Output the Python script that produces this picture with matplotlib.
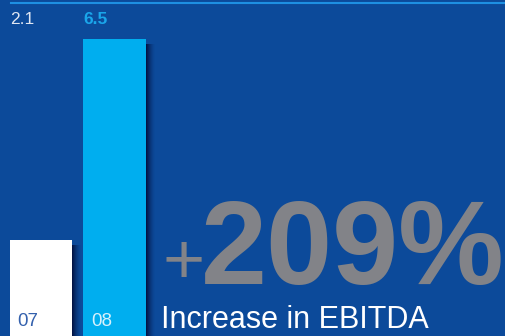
import matplotlib
matplotlib.use("Agg")
import matplotlib.pyplot as plt
from matplotlib.lines import Line2D
import numpy as np

plt.rcParams['font.family'] = ['Liberation Sans', 'DejaVu Sans']

# EBITDA by year (in millions)
years = ["07", "08"]
ebitda = [2.1, 6.5]
value_labels = ["2.1", "6.5"]
headline = "209%"
caption = "Increase in EBITDA"

BG = "#0c4a9a"
GREY = "#828388"
bar_colors = ["#ffffff", "#00aeef"]
value_colors = ["#dfe6f2", "#1aa6ea"]
year_colors = ["#3461ad", "#d7f1fc"]

W, H = 505, 336
fig = plt.figure(figsize=(W / 100, H / 100), dpi=100)
fig.patch.set_facecolor(BG)
ax = fig.add_axes([0, 0, 1, 1])
ax.set_facecolor(BG)

# one category step = 73.5 px, one unit of value = 45.7 px
px_x = 1 / 73.5
px_y = 1 / 45.7
ax.set_xlim(-41 * px_x, (W - 41) * px_x)
ax.set_ylim(0, H * px_y)
ax.axis('off')

x = np.arange(len(years))
width = 62.5 * px_x
vals = np.array(ebitda)

# soft drop shadow on the right side of each bar
n = 9
for k in range(n):
    ax.bar(x + width / 2 + (k + 0.5) * px_x, vals - 5 * px_y, width=px_x,
           align='center', color="#020f3c", alpha=0.9 * (1 - k / n) ** 1.6,
           linewidth=0, zorder=1)

bars = ax.bar(x, vals, width=width, color=bar_colors, linewidth=0, zorder=2)

xt = ax.get_xaxis_transform()
for xi, lab, col, yr, ycol in zip(x, value_labels, value_colors, years, year_colors):
    ax.text(xi - width / 2, 1 - 19.5 / H, lab, transform=xt, ha='left', va='center',
            fontsize=12.5, color=col, fontweight='bold' if col == value_colors[1] else 'normal')
    ax.text(xi - width / 2 + 8 * px_x, 10 / H, yr, transform=xt, ha='left',
            va='baseline', fontsize=13.5, color=ycol, zorder=3)

# thin rule across the top
fig.add_artist(Line2D([11 / W, 1], [1 - 2.5 / H, 1 - 2.5 / H], color="#1e90e2",
                      linewidth=1.5, transform=fig.transFigure))

fig.text(163 / W, 1 - 283 / H, "+", fontsize=52, color=GREY, va='baseline')
fig.text(201 / W, 1 - 284 / H, headline, fontsize=85.5, fontweight='bold',
         color=GREY, va='baseline')
fig.text(161 / W, 1 - 328 / H, caption, fontsize=22, color="white", va='baseline')

fig.savefig("out.png", dpi=100, facecolor=BG)
